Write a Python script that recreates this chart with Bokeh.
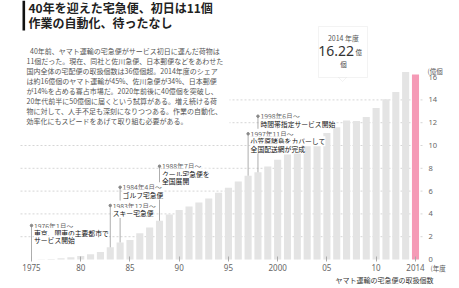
from bokeh.plotting import figure
from bokeh.models import Label, BoxAnnotation, PolyAnnotation, FixedTicker, Range1d, LinearAxis
from bokeh.embed import file_html
from bokeh.resources import INLINE

# ---------------- data ----------------
years = list(range(1975, 2015))
values = [0.0, 0.02, 0.05, 0.11, 0.2, 0.3, 0.45, 0.65, 1.07, 1.5,
          1.7, 2.3, 2.8, 3.4, 3.95, 4.35, 4.65, 5.0, 5.35, 5.85,
          6.3, 6.85, 7.35, 7.65, 8.15, 8.75, 9.2, 9.6, 10.1, 10.65,
          11.1, 11.6, 12.2, 12.15, 12.5, 13.3, 14.05, 14.7, 16.45, 16.22]
tick_years = [1975, 1980, 1985, 1990, 1995, 2000, 2005, 2010, 2014]
tick_labels = ["1975", "80", "85", "90", "95", "2000", "05", "10", "2014"]
value_ticks = [0, 2, 4, 6, 8, 10, 12, 14, 16]
grid_values = [2, 4, 6, 8, 10, 12, 14]

title_lines = ["40年を迎えた宅急便、初日は11個", "作業の自動化、待ったなし"]
body_lines = [
    "40年前、ヤマト運輸の宅急便がサービス初日に運んだ荷物は",
    "11個だった。現在、同社と佐川急便、日本郵便などをあわせた",
    "国内全体の宅配便の取扱個数は36億個超。2014年度のシェア",
    "は約16億個のヤマト運輸が45%、佐川急便が34%、日本郵便",
    "が14%を占める寡占市場だ。2020年前後に40億個を突破し、",
    "20年代前半に50億個に届くという試算がある。増え続ける荷",
    "物に対して、人手不足も深刻になりつつある。作業の自動化、",
    "効率化にもスピードをあげて取り組む必要がある。",
]
ann_years = [1975, 1983, 1984, 1988, 1997, 1998]
ann_dates = ["1976年1月〜", "1983年12月〜", "1984年4月〜", "1988年7月〜", "1997年11月〜", "1998年6月〜"]
ann_texts = [["東京、関東の主要都市で", "サービス開始"], ["スキー宅急便"], ["ゴルフ宅急便"],
             ["クール宅急便を", "全国展開"], ["小笠原諸島をカバーして", "全国配送網が完成"],
             ["時間帯指定サービス開始"]]
highlight_year = "2014 年度"
highlight_value = "16.22"

# ---------------- layout helpers (pixel -> data) ----------------
PX_PER_YEAR = (415 - 31) / 39.0
PX_PER_UNIT = 11.4
def dx(px):
    return 1975 + (px - 31) / PX_PER_YEAR
def dy(py):
    return (259 - py) / PX_PER_UNIT

JP = "Noto Sans CJK JP"
GRAY_BAR = "#e4e4e4"
PINK = "#f59ab6"

p = figure(width=459, height=288, output_backend="svg", toolbar_location=None,
           x_range=Range1d(dx(0), dx(459)), y_range=Range1d(dy(288), dy(0)),
           x_axis_type=None, y_axis_type=None,
           min_border_left=0, min_border_right=0, min_border_top=0, min_border_bottom=0)
p.outline_line_color = None
p.background_fill_color = "white"
p.xgrid.visible = False
p.ygrid.visible = False

# dashed grid lines across the plot area
p.segment(x0=dx(20), x1=dx(424), y0=grid_values, y1=grid_values,
          line_color="#d6d6d6", line_dash="2 2", line_width=1, level="underlay")

colors = [PINK if y == 2014 else GRAY_BAR for y in years]
p.vbar(x=years, top=values, width=0.72, fill_color=colors, line_color=None)

# axes (drawn at fixed locations inside the frame)
xaxis = LinearAxis(fixed_location=0, ticker=FixedTicker(ticks=tick_years),
                   major_label_overrides={y: l for y, l in zip(tick_years, tick_labels)},
                   axis_line_color=None, major_tick_in=3, major_tick_out=2,
                   major_tick_line_color="#aaaaaa", minor_tick_line_color=None,
                   major_label_standoff=2, major_label_text_font="Noto Sans",
                   major_label_text_font_size="8px", major_label_text_color="#666666")
p.add_layout(xaxis, "below")
yaxis = LinearAxis(fixed_location=dx(424), ticker=FixedTicker(ticks=value_ticks),
                   axis_line_color=None, major_tick_line_color=None, minor_tick_line_color=None,
                   major_tick_in=0, major_tick_out=0, minor_tick_in=0, minor_tick_out=0,
                   major_label_standoff=4, major_label_text_font="Noto Sans",
                   major_label_text_font_size="7.5px", major_label_text_color="#666666")
p.add_layout(yaxis, "right")

# annotation leader lines and dots
ann_py = [225, 205, 186.7, 165.7, 133.3, 115.7]
ann_vals = [values[years.index(y)] for y in ann_years]
p.segment(x0=ann_years, y0=[dy(v) for v in ann_py], x1=ann_years, y1=ann_vals,
          line_color="#999999", line_width=0.8)
p.scatter(x=ann_years, y=[dy(v) for v in ann_py], size=2.5, color="#888888")

# white box behind paragraph
p.add_layout(BoxAnnotation(left=dx(0), right=dx(229), top=dy(38), bottom=dy(136),
                           fill_color="white", fill_alpha=1, line_color=None))

def lab(x, y, text, size="7px", color="#333333", align="left", font=JP, style="normal", bg=None):
    p.add_layout(Label(x=dx(x), y=dy(y), text=text, text_font=font, text_font_size=size,
                       text_color=color, text_align=align, text_baseline="middle",
                       text_font_style=style, background_fill_color=bg))

# title
p.add_layout(BoxAnnotation(left=dx(22), right=dx(24.6), top=dy(0), bottom=dy(30),
                           fill_color="#111111", fill_alpha=1, line_color=None))
lab(28, 7, title_lines[0], size="12px", color="#222222", style="bold")
lab(28, 22, title_lines[1], size="12px", color="#222222", style="bold")

# body
for i, line in enumerate(body_lines):
    lab(29.5 if i == 0 else 26, 50 + 10 * i, line, size="7px", color="#555555")

# event annotations
for k, (yr, d, txts) in enumerate(zip(ann_years, ann_dates, ann_texts)):
    px = 31 + (yr - 1975) * PX_PER_YEAR + 2.5
    lab(px, ann_py[k], d, size="6.8px", color="#666666", bg="white")
    for j, t in enumerate(txts):
        lab(px, ann_py[k] + 7.4 * (j + 1), t, size="6.8px", color="#111111", bg="white")

# callout box
p.add_layout(BoxAnnotation(left=dx(318), right=dx(367), top=dy(26), bottom=dy(77),
                           fill_color="white", fill_alpha=1, line_color="#d8d8d8", line_width=1))
p.add_layout(PolyAnnotation(xs=[dx(338), dx(346), dx(342)], ys=[dy(77), dy(77), dy(81)],
                            fill_color="white", fill_alpha=1, line_color="#d8d8d8", line_width=1))
lab(343, 37, highlight_year, size="7px", color="#555555", align="center")
lab(353.5, 50, highlight_value, size="14px", color="#333333", align="right", font="Noto Sans")
lab(355, 51.5, "億", size="6.5px", color="#444444")
lab(343, 63, "個", size="6.5px", color="#444444", align="center")

# units and caption
lab(427, 70, "(億個", size="6.5px", color="#555555")
lab(430, 267.5, "(年度", size="6.5px", color="#555555")
lab(433, 279, "ヤマト運輸の宅急便の取扱個数", size="7px", color="#333333", align="right")

open("out.html", "w").write(file_html(p, INLINE))
